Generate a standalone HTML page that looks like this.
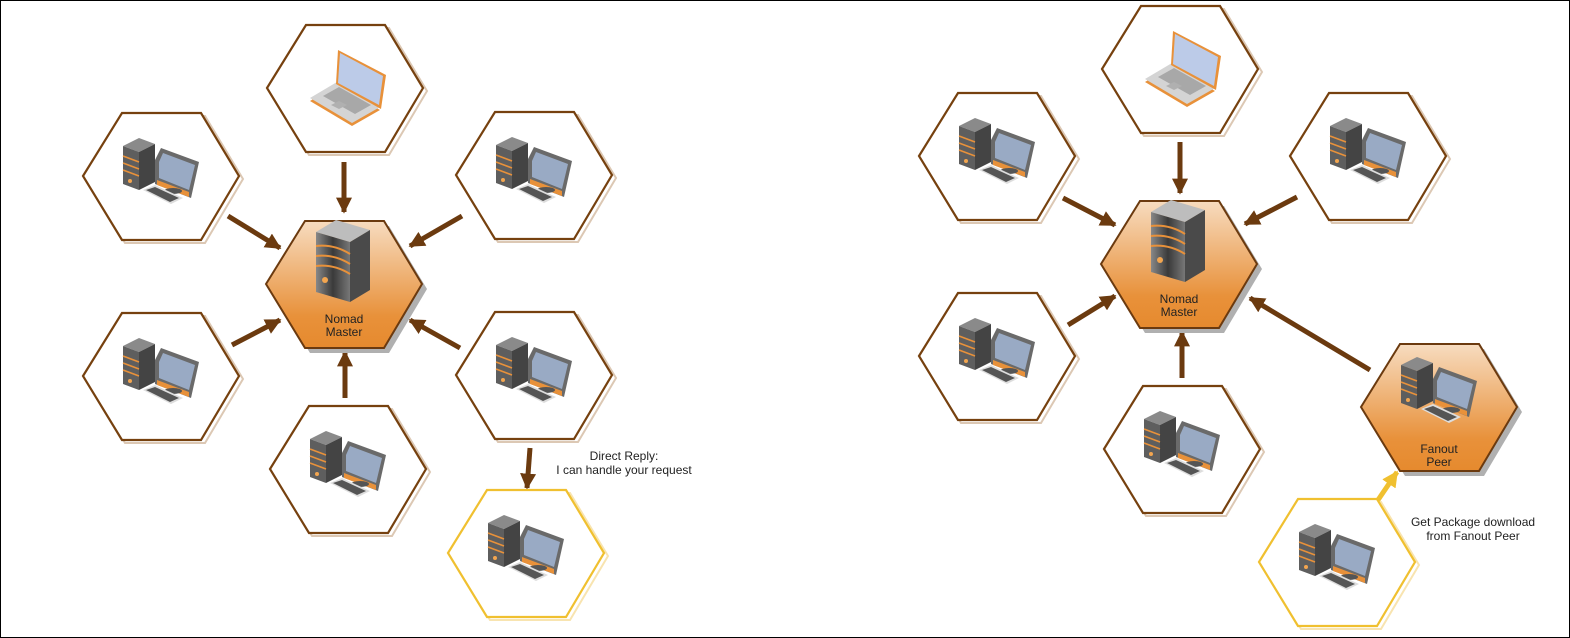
<!DOCTYPE html>
<html><head><meta charset="utf-8"><style>
html,body{margin:0;padding:0;background:#fff}
svg{display:block}
text{font-family:"Liberation Sans",sans-serif;font-size:12px;fill:#222}
</style></head><body>
<svg width="1570" height="638" viewBox="0 0 1570 638" xmlns="http://www.w3.org/2000/svg">
<defs>
<linearGradient id="og" x1="0" y1="0" x2="0" y2="1"><stop offset="0" stop-color="#f7dcc0"/><stop offset="0.75" stop-color="#e8913a"/><stop offset="1" stop-color="#e68a2e"/></linearGradient>
<linearGradient id="sg" x1="0" y1="0" x2="1" y2="0"><stop offset="0" stop-color="#888"/><stop offset="0.5" stop-color="#3a3a3a"/><stop offset="1" stop-color="#777"/></linearGradient>
<symbol id="hexw" overflow="visible">
<polygon points="-75,3 -36,-60 44,-60 82,3 44,67 -36,67" fill="none" stroke="#dcc8b4" stroke-width="2"/>
<polygon points="-78,0 -39,-63 40,-63 78,0 40,64 -39,64" fill="#fff" stroke="#76410f" stroke-width="2.2"/>
</symbol>
<symbol id="hexy" overflow="visible">
<polygon points="-75,3 -36,-60 44,-60 82,3 44,67 -36,67" fill="none" stroke="#f8e4b0" stroke-width="2"/>
<polygon points="-78,0 -39,-63 40,-63 78,0 40,64 -39,64" fill="#fff" stroke="#f0c030" stroke-width="2.2"/>
</symbol>
<symbol id="hexo" overflow="visible">
<polygon points="-73,5 -34,-58 45,-58 83,5 45,69 -34,69" fill="#b0b0b0"/>
<polygon points="-78,0 -39,-63 40,-63 78,0 40,64 -39,64" fill="url(#og)" stroke="#6b3a0f" stroke-width="2"/>
</symbol>
<symbol id="pc" overflow="visible">
<polygon points="-38,-30 -22,-38 -6,-32 -22,-24" fill="#8a8a8a"/>
<polygon points="-38,-30 -22,-24 -22,14 -38,8" fill="#5e5e5e"/>
<polygon points="-22,-24 -6,-32 -6,6 -22,14" fill="#444"/>
<path d="M-38,-20 L-22,-14 M-38,-13 L-22,-7 M-38,-6 L-22,0" stroke="#e8913a" stroke-width="1.6"/>
<circle cx="-31" cy="5" r="2" fill="#f3a650"/>
<polygon points="-6,-16 0,-28 38,-14 30,22 -6,8" fill="#6a6a6a"/>
<polygon points="-2,-14 2,-23 34,-11 28,14 -2,2" fill="#99aac4"/>
<polygon points="-4,4 28,16 28,21 -4,9" fill="#e8913a"/>
<ellipse cx="12" cy="15" rx="9" ry="3" fill="#555"/>
<polygon points="-18,14 -6,9 22,22 10,28" fill="#ddd"/>
<polygon points="-15,14 -6,11 18,22 9,26" fill="#555"/>
</symbol>
<symbol id="laptop" overflow="visible">
<polygon points="-8,-3 35,22 7,38 -35,13" fill="#e8913a"/>
<polygon points="-8,-6 35,19 7,35 -35,10" fill="#d4d4d4"/>
<polygon points="-6,-1 26,17 10,26 -22,8" fill="#a8a8a8"/>
<polygon points="-14,17 -6,13 2,17 -6,21" fill="#b0b0b0"/>
<polygon points="-9,-4 -7,-38 41,-13 36,21" fill="#e8913a"/>
<polygon points="-7,-5 -5,-35 38,-12 34,17" fill="#bccbe8"/>
</symbol>
<symbol id="server" overflow="visible">
<polygon points="-28,-36 -8,-48 26,-38 6,-26" fill="#bdbdbd"/>
<polygon points="-28,-36 6,-26 6,34 -28,24" fill="url(#sg)"/>
<polygon points="6,-26 26,-38 26,22 6,34" fill="#4a4a4a"/>
<path d="M-28,-22 Q-10,-24 6,-14 M-28,-12 Q-10,-14 6,-4 M-28,-2 Q-10,-4 6,6" stroke="#e8913a" stroke-width="2" fill="none"/>
<circle cx="-19" cy="12" r="3" fill="#f3a650"/>
</symbol>
<marker id="ab" viewBox="0 0 10 10" refX="9" refY="5" markerWidth="3.2" markerHeight="3.2" orient="auto" markerUnits="strokeWidth"><path d="M0,0 L10,5 L0,10 z" fill="#6b3a0f"/></marker>
<marker id="ay" viewBox="0 0 10 10" refX="9" refY="5" markerWidth="3.2" markerHeight="3.2" orient="auto" markerUnits="strokeWidth"><path d="M0,0 L10,5 L0,10 z" fill="#f0c030"/></marker>
</defs>
<rect x="0.5" y="0.5" width="1569" height="637" fill="#fff" stroke="#000"/>

<!-- LEFT -->
<g stroke="#6b3a0f" stroke-width="5" marker-end="url(#ab)">
<line x1="344" y1="162" x2="344" y2="212"/>
<line x1="228" y1="216" x2="280" y2="248"/>
<line x1="462" y1="216" x2="410" y2="246"/>
<line x1="232" y1="345" x2="280" y2="320"/>
<line x1="460" y1="348" x2="410" y2="320"/>
<line x1="345" y1="398" x2="345" y2="352"/>
<line x1="530" y1="448" x2="527" y2="488"/>
</g>
<use href="#hexw" x="345" y="88"/><use href="#laptop" x="345" y="88"/>
<use href="#hexw" x="161" y="176"/><use href="#pc" x="161" y="176"/>
<use href="#hexw" x="534" y="175"/><use href="#pc" x="534" y="175"/>
<use href="#hexw" x="161" y="376"/><use href="#pc" x="161" y="376"/>
<use href="#hexw" x="534" y="375"/><use href="#pc" x="534" y="375"/>
<use href="#hexw" x="348" y="469"/><use href="#pc" x="348" y="469"/>
<use href="#hexy" x="526" y="553"/><use href="#pc" x="526" y="553"/>
<use href="#hexo" x="344" y="284"/><use href="#server" x="344" y="268"/>
<text x="344" y="323" text-anchor="middle">Nomad</text>
<text x="344" y="336" text-anchor="middle">Master</text>
<text x="624" y="460" text-anchor="middle">Direct Reply:</text>
<text x="624" y="474" text-anchor="middle">I can handle your request</text>

<!-- RIGHT -->
<g stroke="#6b3a0f" stroke-width="5" marker-end="url(#ab)">
<line x1="1180" y1="142" x2="1180" y2="193"/>
<line x1="1063" y1="198" x2="1115" y2="225"/>
<line x1="1297" y1="197" x2="1245" y2="224"/>
<line x1="1068" y1="325" x2="1115" y2="296"/>
<line x1="1182" y1="378" x2="1182" y2="332"/>
<line x1="1370" y1="370" x2="1250" y2="298"/>
</g>
<line x1="1378" y1="500" x2="1397" y2="472" stroke="#f0c030" stroke-width="5" marker-end="url(#ay)"/>
<use href="#hexw" x="1180" y="69"/><use href="#laptop" x="1180" y="69"/>
<use href="#hexw" x="997" y="156"/><use href="#pc" x="997" y="156"/>
<use href="#hexw" x="1368" y="156"/><use href="#pc" x="1368" y="156"/>
<use href="#hexw" x="997" y="356"/><use href="#pc" x="997" y="356"/>
<use href="#hexw" x="1182" y="449"/><use href="#pc" x="1182" y="449"/>
<use href="#hexy" x="1337" y="562"/><use href="#pc" x="1337" y="562"/>
<use href="#hexo" x="1179" y="264"/><use href="#server" x="1179" y="248"/>
<text x="1179" y="303" text-anchor="middle">Nomad</text>
<text x="1179" y="316" text-anchor="middle">Master</text>
<use href="#hexo" x="1439" y="407"/><use href="#pc" x="1439" y="395"/>
<text x="1439" y="453" text-anchor="middle">Fanout</text>
<text x="1439" y="466" text-anchor="middle">Peer</text>
<text x="1473" y="526" text-anchor="middle">Get Package download</text>
<text x="1473" y="540" text-anchor="middle">from Fanout Peer</text>
</svg>
</body></html>
